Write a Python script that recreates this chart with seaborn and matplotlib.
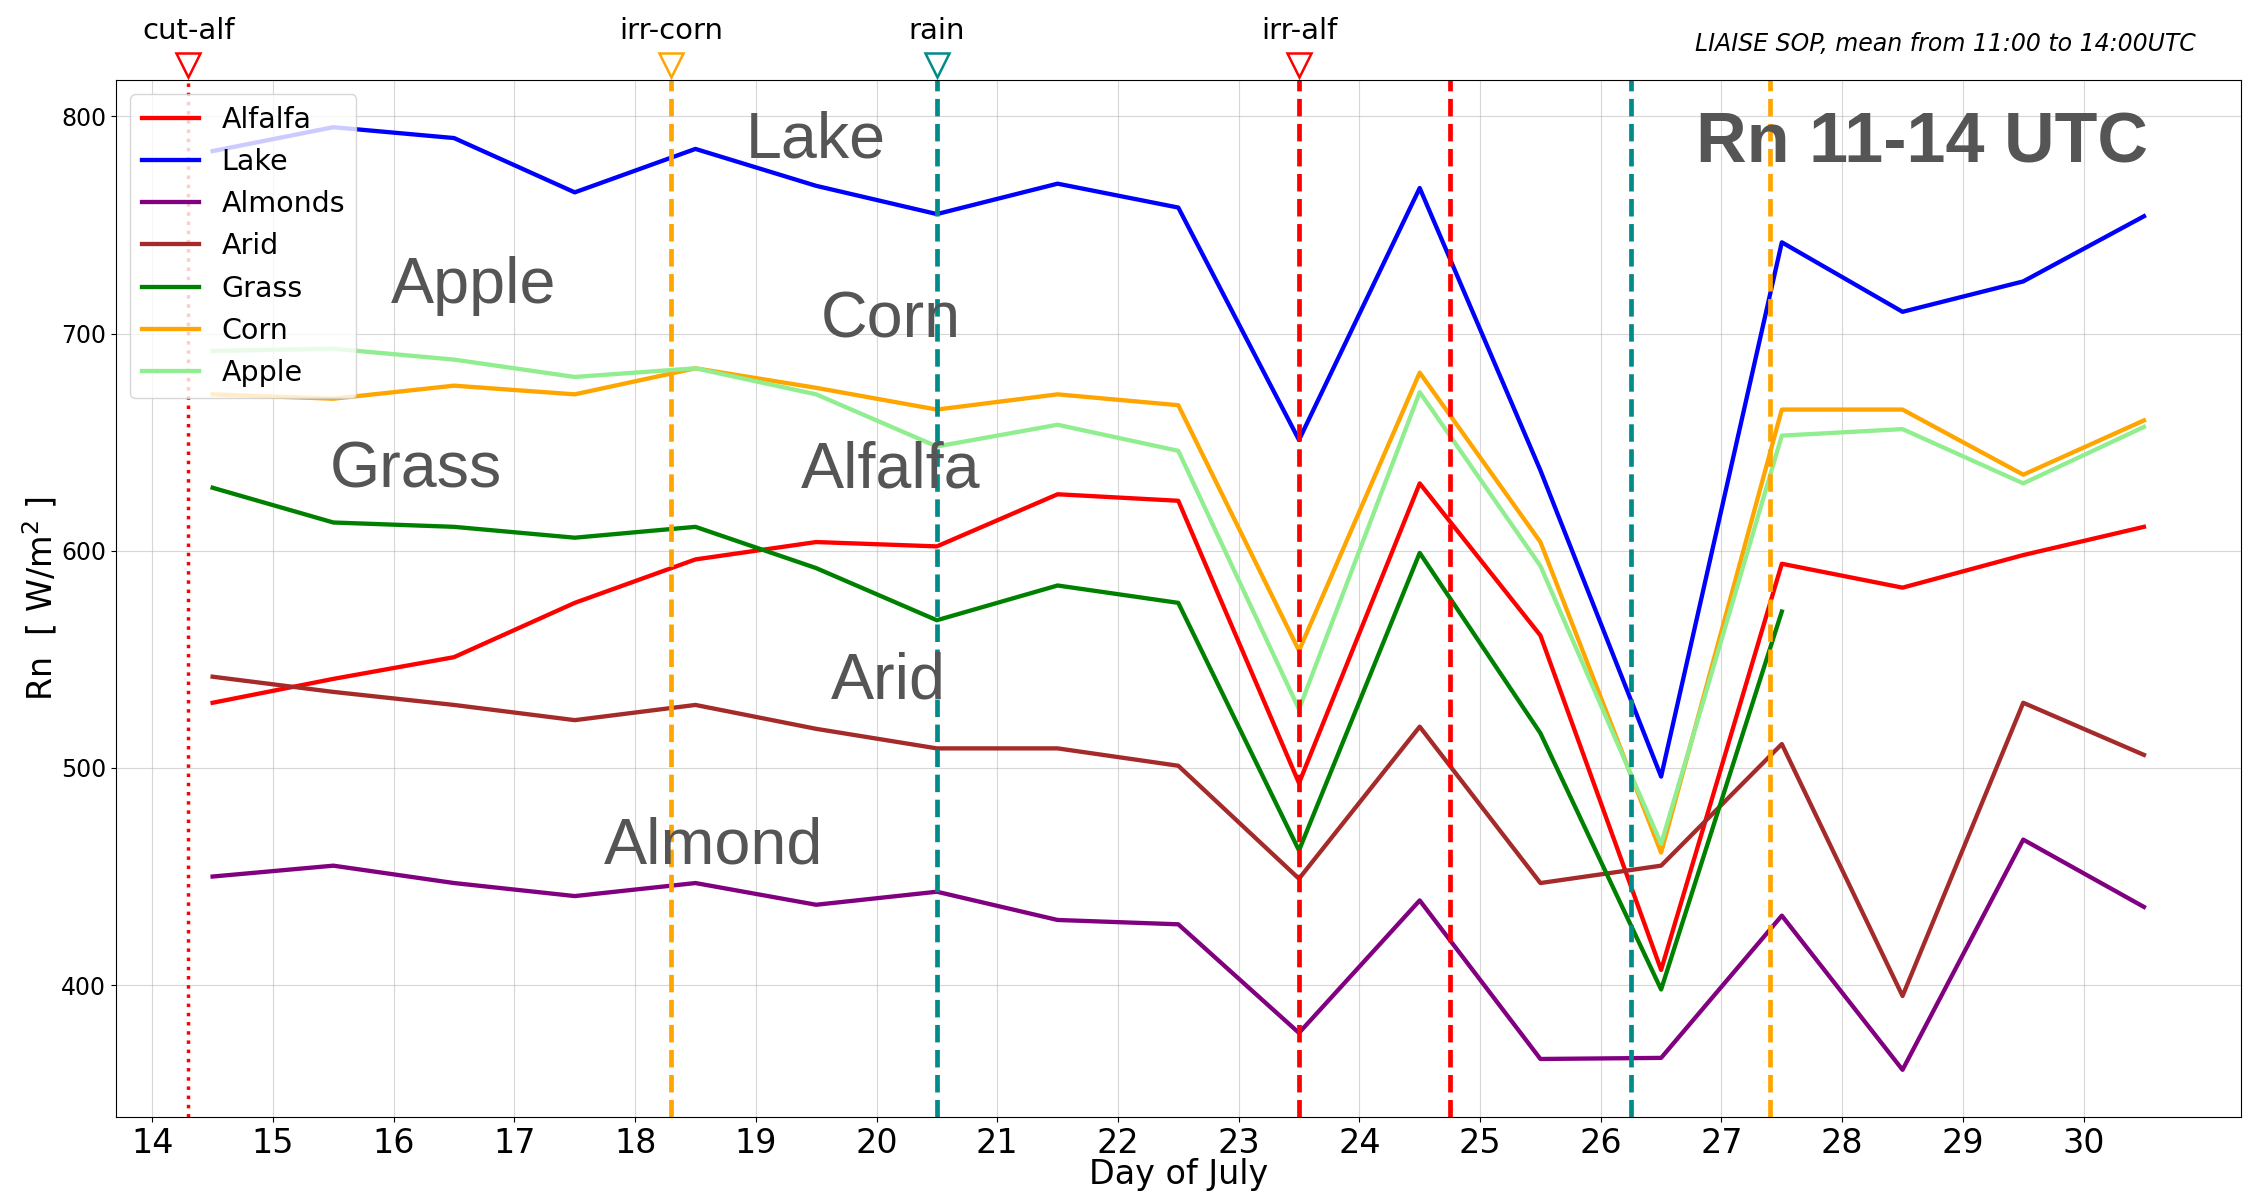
import numpy as np
import pandas as pd
import seaborn as sns
import matplotlib.pyplot as plt

# Rn mean 11-14 UTC per site
days = [14.5, 15.5, 16.5, 17.5, 18.5, 19.5, 20.5, 21.5, 22.5,
        23.5, 24.5, 25.5, 26.5, 27.5, 28.5, 29.5, 30.5]
alfalfa = [530, 541, 551, 576, 596, 604, 602, 626, 623, 493, 631, 561, 407, 594, 583, 598, 611]
lake = [784, 795, 790, 765, 785, 768, 755, 769, 758, 651, 767, 637, 496, 742, 710, 724, 754]
almonds = [450, 455, 447, 441, 447, 437, 443, 430, 428, 378, 439, 366, 366.5, 432, 361, 467, 436]
arid = [542, 535, 529, 522, 529, 518, 509, 509, 501, 449, 519, 447, 455, 511, 395, 530, 506]
grass = [629, 613, 611, 606, 611, 592, 568, 584, 576, 462, 599, 516, 398, 572, np.nan, np.nan, np.nan]
corn = [672, 670, 676, 672, 684, 675, 665, 672, 667, 554, 682, 604, 461, 665, 665, 635, 660]
apple = [692, 693, 688, 680, 684, 672, 648, 658, 646, 527, 673, 593, 465, 653, 656, 631, 657]

sites = ['Alfalfa', 'Lake', 'Almonds', 'Arid', 'Grass', 'Corn', 'Apple']
colors = ['red', 'blue', 'purple', 'brown', 'green', 'orange', 'lightgreen']

# events (day, label, colour, linestyle)
event_days = [14.3, 18.3, 20.5, 23.5, 24.75, 26.25, 27.4]
event_labels = ['cut-alf', 'irr-corn', 'rain', 'irr-alf', '', '', '']
event_colors = ['red', 'orange', 'darkcyan', 'red', 'red', 'darkcyan', 'orange']
event_styles = [':', '--', '--', '--', '--', '--', '--']

# site labels written on the plot
lab_text = ['Lake', 'Apple', 'Corn', 'Grass', 'Alfalfa', 'Arid', 'Almond']
lab_x = [19.5, 16.66, 20.12, 16.18, 20.12, 20.1, 18.65]
lab_y = [789, 722, 706, 637, 637, 540, 464]

df = pd.DataFrame({'day': days, 'Alfalfa': alfalfa, 'Lake': lake, 'Almonds': almonds,
                   'Arid': arid, 'Grass': grass, 'Corn': corn, 'Apple': apple})
df = df.melt(id_vars='day', var_name='site', value_name='Rn')

fig = plt.figure(figsize=(22.45, 11.95), dpi=100)
ax = fig.add_axes([0.0517, 0.0653, 0.9463, 0.8677])

sns.lineplot(data=df, x='day', y='Rn', hue='site', hue_order=sites,
             palette=dict(zip(sites, colors)), linewidth=3.1, ax=ax)
ax.set_xlim(13.7, 31.3)
ax.set_ylim(339.3, 816.7)

for d, lab, c, ls in zip(event_days, event_labels, event_colors, event_styles):
    ax.axvline(d, color=c, ls=ls, lw=2.5 if ls == ':' else 3.4)
    if lab:
        ax.plot(d, 1.0145, marker='v', ms=17, mfc='white', mec=c, mew=1.8,
                transform=ax.get_xaxis_transform(), clip_on=False)
        ax.text(d, 1.04, lab, ha='center', va='baseline', fontsize=21,
                transform=ax.get_xaxis_transform())

for t, x, y in zip(lab_text, lab_x, lab_y):
    ax.text(x, y, t, ha='center', va='center', fontsize=46.5, color='#555555',
            family='Liberation Sans')
ax.text(28.66, 787, 'Rn 11-14 UTC', ha='center', va='center', fontsize=50.5,
        color='#555555', family='Liberation Sans', weight='bold')
fig.text(0.978, 0.963, 'LIAISE SOP, mean from 11:00 to 14:00UTC', ha='right',
         va='center', fontsize=17, style='italic')

ax.set_xticks(range(14, 31))
ax.tick_params(axis='x', labelsize=24)
ax.tick_params(axis='y', labelsize=17)
ax.set_xlabel('Day of July', fontsize=24, labelpad=-1)
ax.set_ylabel('Rn  [ W/m$^2$ ]', fontsize=24, labelpad=1)
ax.grid(True, alpha=0.5)
ax.legend(loc='upper left', fontsize=20.5)

fig.savefig('out.png')
